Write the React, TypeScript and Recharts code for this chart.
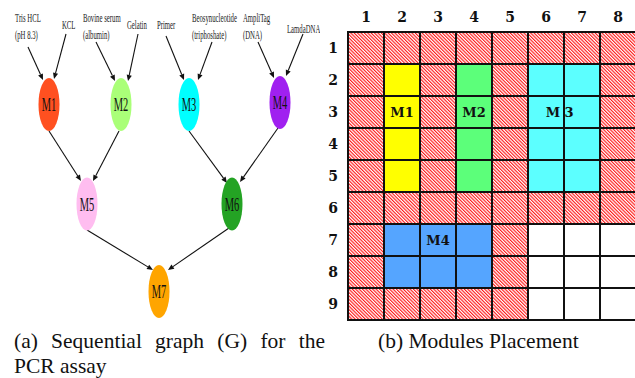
import React from 'react';
import { ComposedChart, Scatter, XAxis, YAxis, ReferenceLine, ReferenceArea } from 'recharts';

const SERIF = "'Liberation Serif', 'Times New Roman', Times, 'DejaVu Serif', serif";

// ---------- Graph (a) data ----------
const inputLabels = [
  { x: 15, y: 17, lines: ['Tris HCL', '(pH 8.3)'] },
  { x: 62, y: 24, lines: ['KCL'] },
  { x: 83, y: 17, lines: ['Bovine serum', '(albumin)'] },
  { x: 127, y: 24, lines: ['Gelatin'] },
  { x: 157, y: 24, lines: ['Primer'] },
  { x: 192, y: 17, lines: ['Beosynucleotide', '(triphoshate)'] },
  { x: 243, y: 17, lines: ['AmpliTag', '(DNA)'] },
  { x: 287, y: 28, lines: ['LamdaDNA'] },
];

const nodes = [
  { x: 49, y: 104.5, name: 'M1', color: '#ff5020' },
  { x: 121, y: 104.5, name: 'M2', color: '#aaff78' },
  { x: 189, y: 104.5, name: 'M3', color: '#00ffff' },
  { x: 280, y: 102.5, name: 'M4', color: '#a020f0' },
  { x: 87, y: 204, name: 'M5', color: '#ffbdf0' },
  { x: 232, y: 204, name: 'M6', color: '#24a324' },
  { x: 159, y: 291.5, name: 'M7', color: '#ffa500' },
];

const edges = [
  { from: [28, 47], to: [43, 80] },
  { from: [66, 34], to: [54, 79] },
  { from: [96, 42], to: [115, 81] },
  { from: [138, 34], to: [128, 81] },
  { from: [166, 36], to: [184, 80] },
  { from: [212, 42], to: [198, 80] },
  { from: [258, 42], to: [274, 78] },
  { from: [303, 34], to: [286, 76] },
  { from: [49, 131], to: [81, 181] },
  { from: [119, 131], to: [93, 181] },
  { from: [189, 131], to: [227, 183] },
  { from: [278, 128], to: [240, 182] },
  { from: [87, 230], to: [153, 270] },
  { from: [229, 228], to: [168, 270] },
];

// ---------- Placement (b) data ----------
const colLabels = [1, 2, 3, 4, 5, 6, 7, 8];
const rowLabels = [1, 2, 3, 4, 5, 6, 7, 8, 9];
const gridRows = [
  'RRRRRRRR',
  'RYRGRCCR',
  'RYRGRCCR',
  'RYRGRCCR',
  'RYRGRCCR',
  'RRRRRRRR',
  'RBBBRWWW',
  'RBBBRWWW',
  'RRRRRWWW',
];
const cellFills: Record<string, string> = {
  R: 'url(#hatch)',
  Y: '#ffff00',
  G: '#5cff7a',
  C: '#5cffff',
  B: '#55a5ff',
  W: '#ffffff',
};
const moduleLabels = [
  { x: 2, y: 3, name: 'M1' },
  { x: 4, y: 3, name: 'M2' },
  { x: 6.38, y: 3, name: 'M 3' },
  { x: 3, y: 7, name: 'M4' },
];

const captionA1 = '(a) Sequential graph (G) for the';
const captionA2 = 'PCR assay';
const captionB = '(b) Modules Placement';

const ArrowLine = (p: any) => {
  const { x1, y1, x2, y2 } = p;
  const dx = x2 - x1;
  const dy = y2 - y1;
  const len = Math.sqrt(dx * dx + dy * dy);
  const ux = dx / len;
  const uy = dy / len;
  const hl = 6;
  const hw = 2.6;
  const bx = x2 - ux * hl;
  const by = y2 - uy * hl;
  const pts = `${x2},${y2} ${bx - uy * hw},${by + ux * hw} ${bx + uy * hw},${by - ux * hw}`;
  return (
    <g>
      <line x1={x1} y1={y1} x2={bx} y2={by} stroke="#111" strokeWidth={1.1} />
      <polygon points={pts} fill="#111" />
    </g>
  );
};

const NodeShape = (p: any) => {
  const { cx, cy, payload } = p;
  return (
    <g>
      <ellipse cx={cx} cy={cy} rx={10.5} ry={26.5} fill={payload.color} />
      <text
        transform={`translate(${cx},${cy + 6.5}) scale(0.55,1)`}
        textAnchor="middle"
        fontSize={19}
        fontFamily={SERIF}
        fill="#111"
      >
        {payload.name}
      </text>
    </g>
  );
};

const InputLabelShape = (p: any) => {
  const { cx, cy, payload } = p;
  return (
    <g>
      {payload.lines.map((l: string, i: number) => (
        <text
          key={i}
          transform={`translate(${cx},${cy + 4.5 + i * 17}) scale(0.54,1)`}
          fontSize={12.5}
          fontFamily={SERIF}
          fill="#1a1a1a"
        >
          {l}
        </text>
      ))}
    </g>
  );
};

const ModuleLabelShape = (p: any) => {
  const { cx, cy, payload } = p;
  return (
    <text
      x={cx}
      y={cy + 5}
      textAnchor="middle"
      fontSize={13}
      fontWeight="bold"
      fontFamily="'DejaVu Serif', serif"
      fill="#111"
    >
      {payload.name}
    </text>
  );
};

const ColTick = (p: any) => (
  <text x={p.x} y={p.y} textAnchor="middle" fontSize={14} fontWeight="bold" fontFamily="'DejaVu Serif', serif" fill="#111">
    {p.payload.value}
  </text>
);
const RowTick = (p: any) => (
  <text x={p.x} y={p.y + 5} textAnchor="middle" fontSize={14} fontWeight="bold" fontFamily="'DejaVu Serif', serif" fill="#111">
    {p.payload.value}
  </text>
);

export default function App() {
  const cells: any[] = [];
  gridRows.forEach((row, ri) => {
    row.split('').forEach((ch, ci) => {
      cells.push({ r: ri + 1, c: ci + 1, fill: cellFills[ch] });
    });
  });

  return (
    <div style={{ position: 'absolute', left: 0, top: 0, width: 635, height: 378, overflow: 'hidden', background: '#fff' }}>
      <svg width={0} height={0} style={{ position: 'absolute' }}>
        <defs>
          <pattern id="hatch" patternUnits="userSpaceOnUse" width={2.4} height={2.4} patternTransform="rotate(-45)">
            <rect width={2.4} height={2.4} fill="#ffffff" />
            <rect width={1.15} height={2.4} fill="#ff1a1a" />
          </pattern>
        </defs>
      </svg>

      <div style={{ position: 'absolute', left: 0, top: 0 }}>
        <ComposedChart width={320} height={330} margin={{ top: 0, right: 0, bottom: 0, left: 0 }}>
          <XAxis type="number" dataKey="x" domain={[0, 320]} hide />
          <YAxis type="number" dataKey="y" domain={[0, 330]} reversed hide />
          {edges.map((e, i) => (
            <ReferenceLine
              key={i}
              segment={[{ x: e.from[0], y: e.from[1] }, { x: e.to[0], y: e.to[1] }]}
              shape={ArrowLine}
              ifOverflow="visible"
            />
          ))}
          <Scatter data={inputLabels} shape={InputLabelShape} isAnimationActive={false} />
          <Scatter data={nodes} shape={NodeShape} isAnimationActive={false} />
        </ComposedChart>
      </div>

      <div style={{ position: 'absolute', left: 300, top: 0 }}>
        <ComposedChart width={336} height={324} margin={{ top: 0, right: 0, bottom: 4, left: 0 }}>
          <XAxis
            type="number"
            dataKey="x"
            orientation="top"
            height={32}
            domain={[0.5, 8.5]}
            ticks={colLabels}
            axisLine={false}
            tickLine={false}
            tickSize={0}
            tickMargin={10}
            tick={ColTick}
            interval={0}
          />
          <YAxis
            type="number"
            dataKey="y"
            width={48}
            domain={[0.5, 9.5]}
            reversed
            ticks={rowLabels}
            axisLine={false}
            tickLine={false}
            tickSize={0}
            tickMargin={15}
            tick={RowTick}
            interval={0}
          />
          {cells.map((cell, i) => (
            <ReferenceArea
              key={i}
              x1={cell.c - 0.5}
              x2={cell.c + 0.5}
              y1={cell.r - 0.5}
              y2={cell.r + 0.5}
              fill={cell.fill}
              fillOpacity={1}
              stroke="#111"
              strokeWidth={2}
              ifOverflow="visible"
            />
          ))}
          <Scatter data={moduleLabels} shape={ModuleLabelShape} isAnimationActive={false} />
        </ComposedChart>
      </div>

      <div
        style={{
          position: 'absolute',
          left: 14,
          top: 329,
          width: 311,
          fontFamily: SERIF,
          fontSize: 21.5,
          lineHeight: '25px',
          color: '#111',
        }}
      >
        <div style={{ textAlign: 'justify', textAlignLast: 'justify' }}>{captionA1}</div>
        <div>{captionA2}</div>
      </div>
      <div
        style={{
          position: 'absolute',
          left: 378,
          top: 329,
          fontFamily: SERIF,
          fontSize: 21.5,
          lineHeight: '25px',
          color: '#111',
          whiteSpace: 'nowrap',
        }}
      >
        {captionB}
      </div>
    </div>
  );
}
